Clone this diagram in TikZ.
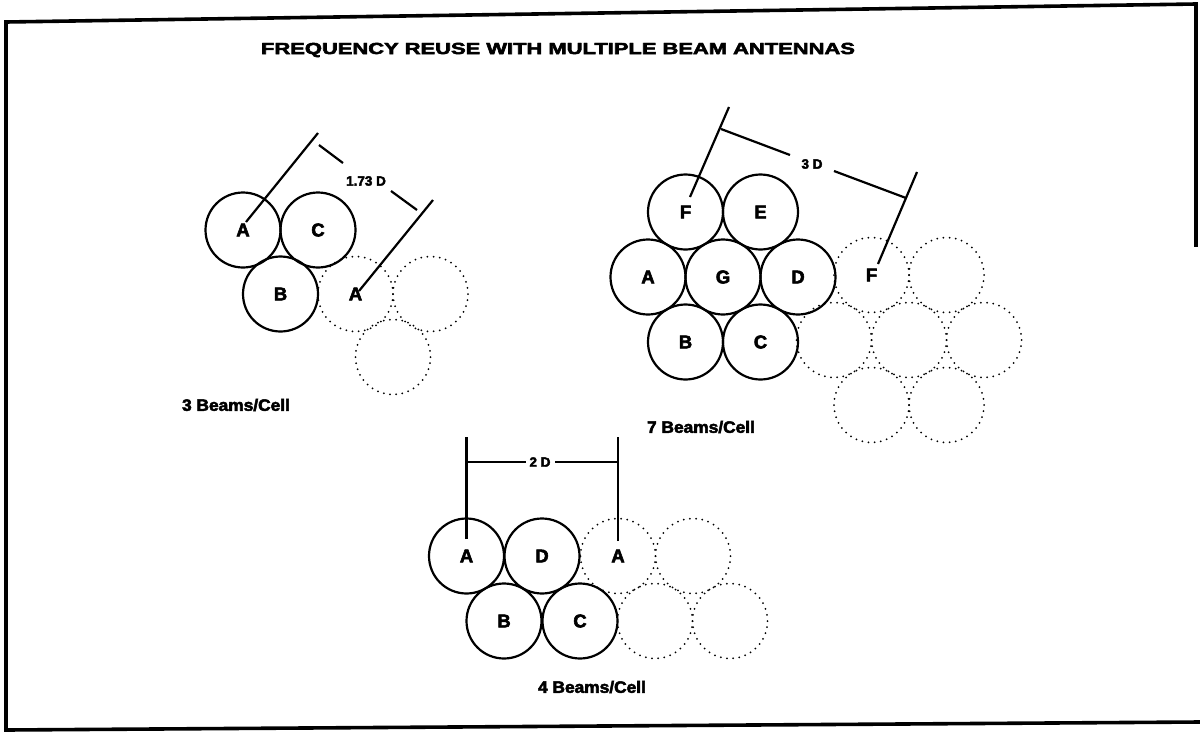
\documentclass[tikz,border=0pt]{standalone}
\usepackage{fontspec}
\setmainfont{Liberation Sans}[BoldFeatures={FakeBold=3}]
\begin{document}
\begin{tikzpicture}[x=1pt,y=-1pt,
  cell/.style={circle, draw, line width=2.2pt, minimum size=75pt, inner sep=0pt,
    font=\bfseries\fontsize{18.5}{18.5}\selectfont},
  ghost/.style={circle, draw, line width=2pt, dash pattern=on 0pt off 6.2pt, line cap=round,
    minimum size=75pt, inner sep=0pt, font=\bfseries\fontsize{18.5}{18.5}\selectfont},
  dimline/.style={line width=2.2pt},
  dimlabel/.style={inner sep=1pt, font=\bfseries\fontsize{13.5}{13.5}\selectfont},
  tag/.style={inner sep=0pt, font=\bfseries\fontsize{16.5}{16.5}\selectfont},
  frameline/.style={line width=3.6pt, line cap=rect}
]
\useasboundingbox (0,0) rectangle (1200,734);

% frame
\coordinate (fbl) at (6,730);
\coordinate (ftl) at (6,22);
\coordinate (ftr) at (1196,4);
\coordinate (frr) at (1196,245);
\coordinate (fbr) at (1200,722);
\draw[frameline] (fbl) -- (ftl) -- (ftr) -- (frr);
\draw[frameline] (fbl) -- (fbr);

% title
\node[tag] (title) at (558,50) {\scalebox{1.37}[1]{\fontsize{16}{16}\selectfont FREQUENCY REUSE WITH MULTIPLE BEAM ANTENNAS}};

% ---------- 3 beams / cell ----------
\node[cell] (pA) at (243,230) {A};
\node[cell] (pC) at (318,230) {C};
\node[cell] (pB) at (280.5,294) {B};
\node[ghost] (pA2) at (355.5,294) {A};
\node[ghost] (pR) at (430.5,294) {};
\node[ghost] (pS) at (393,357) {};

\coordinate (p1a) at (246,222);
\coordinate (p1b) at (318,133);
\coordinate (p2a) at (359,291);
\coordinate (p2b) at (433,200);
\coordinate (pb1) at (319,145);
\coordinate (pb2) at (343,163);
\coordinate (pb3) at (391,191);
\coordinate (pb4) at (417,210);
\node[dimlabel] (pdim) at (366,181) {1.73 D};
\draw[dimline] (p1a) -- (p1b);
\draw[dimline] (p2a) -- (p2b);
\draw[dimline] (pb1) -- (pb2);
\draw[dimline] (pb3) -- (pb4);
\node[tag] (ptag) at (236,405) {\scalebox{1.05}[1]{3 Beams/Cell}};

% ---------- 7 beams / cell ----------
\node[cell] (sF) at (685.5,212) {F};
\node[cell] (sE) at (760.5,212) {E};
\node[cell] (sA) at (648,277) {A};
\node[cell] (sG) at (723,277) {G};
\node[cell] (sD) at (798,277) {D};
\node[cell] (sB) at (685.5,342) {B};
\node[cell] (sC) at (760.5,342) {C};
\node[ghost] (sF2) at (871.5,275) {F};
\node[ghost] (sE2) at (946.5,275) {};
\node[ghost] (sA2) at (834,340) {};
\node[ghost] (sG2) at (909,340) {};
\node[ghost] (sD2) at (984,340) {};
\node[ghost] (sB2) at (871.5,405) {};
\node[ghost] (sC2) at (946.5,405) {};

\coordinate (s1a) at (690,197);
\coordinate (s1b) at (729,107);
\coordinate (s2a) at (878,264);
\coordinate (s2b) at (917,172);
\coordinate (sb1) at (721,129);
\coordinate (sb2) at (790,155);
\coordinate (sb3) at (834,171);
\coordinate (sb4) at (906,198);
\node[dimlabel] (sdim) at (812,164) {3 D};
\draw[dimline] (s1a) -- (s1b);
\draw[dimline] (s2a) -- (s2b);
\draw[dimline] (sb1) -- (sb2);
\draw[dimline] (sb3) -- (sb4);
\node[tag] (stag) at (701,427) {\scalebox{1.05}[1]{7 Beams/Cell}};

% ---------- 4 beams / cell ----------
\node[cell] (qA) at (466.5,556) {A};
\node[cell] (qD) at (542,556) {D};
\node[cell] (qB) at (504,621) {B};
\node[cell] (qC) at (580,621) {C};
\node[ghost] (qA2) at (618,556) {A};
\node[ghost] (qR) at (693,556) {};
\node[ghost] (qS) at (655,621) {};
\node[ghost] (qT) at (730,621) {};

\coordinate (q1a) at (466.5,539);
\coordinate (q1b) at (466.5,437);
\coordinate (q2a) at (618,541);
\coordinate (q2b) at (618,437);
\coordinate (qb1) at (466.5,462);
\coordinate (qb2) at (526,462);
\coordinate (qb3) at (555,462);
\coordinate (qb4) at (618,462);
\node[dimlabel] (qdim) at (540,462) {2 D};
\draw[dimline] (q1a) -- (q1b);
\draw[dimline] (q2a) -- (q2b);
\draw[dimline] (qb1) -- (qb2);
\draw[dimline] (qb3) -- (qb4);
\node[tag] (qtag) at (592,687) {\scalebox{1.05}[1]{4 Beams/Cell}};
\end{tikzpicture}
\end{document}
